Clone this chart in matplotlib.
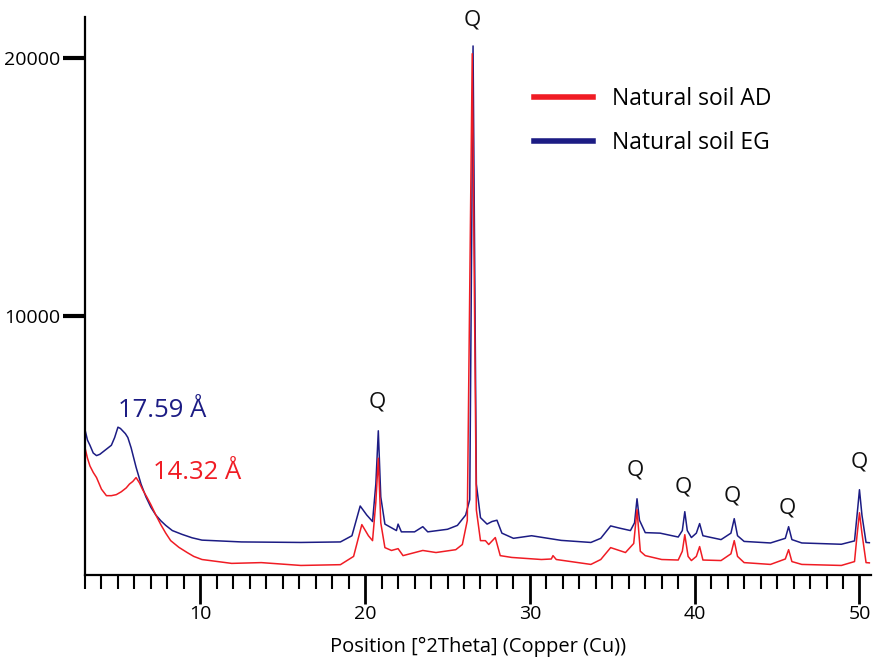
import matplotlib
matplotlib.use("Agg")
import matplotlib.pyplot as plt
from matplotlib.ticker import MultipleLocator

plt.rcParams["font.family"] = ["Open Sans", "DejaVu Sans"]

# 2theta positions and counts
eg_theta = [3.0, 3.15, 3.3, 3.5, 3.7, 3.9, 4.2, 4.4, 4.6, 4.8, 5.0, 5.15, 5.3, 5.45,
            5.6, 5.8, 6.1, 6.4, 6.7, 7.0, 7.3, 7.6, 7.9, 8.3, 8.9, 9.5, 10.1,
            12.5, 16.1, 18.5, 19.2, 19.7, 20.1, 20.45, 20.65, 20.8, 20.95, 21.2,
            21.9, 22.0, 22.2, 23.0, 23.5, 23.8, 25.0, 25.6, 26.1, 26.35, 26.55,
            26.75, 27.0, 27.4, 27.7, 28.0, 28.3, 29.0, 30.1, 31.9, 33.7, 34.3,
            34.9, 35.4, 36.1, 36.35, 36.5, 36.65, 37.0, 37.9, 39.0, 39.25, 39.4,
            39.55, 39.8, 40.1, 40.3, 40.5, 41.6, 42.2, 42.4, 42.6, 43.0, 44.6,
            45.5, 45.7, 45.9, 46.5, 48.9, 49.7, 49.9, 50.0, 50.15, 50.4, 50.6]
eg_counts = [5600, 5200, 5000, 4700, 4600, 4650, 4800, 4900, 5000, 5300, 5700, 5650,
             5550, 5450, 5300, 4900, 4150, 3500, 3000, 2600, 2300, 2080, 1900, 1700,
             1550, 1420, 1330, 1260, 1240, 1260, 1500, 2650, 2300, 2050, 3500, 5560,
             3000, 1950, 1700, 1950, 1650, 1650, 1850, 1650, 1750, 1900, 2300, 2900,
             20450, 3500, 2200, 1950, 2050, 2100, 1600, 1400, 1500, 1320, 1240, 1400,
             1880, 1800, 1700, 2000, 2930, 2100, 1620, 1600, 1450, 1700, 2430, 1700,
             1430, 1600, 1970, 1500, 1350, 1600, 2160, 1500, 1280, 1220, 1400, 1850,
             1350, 1220, 1170, 1300, 2600, 3280, 2300, 1240, 1230]

ad_theta = [3.0, 3.15, 3.3, 3.5, 3.7, 4.0, 4.3, 4.6, 4.9, 5.2, 5.5, 5.7, 5.9, 6.1,
            6.3, 6.5, 6.75, 7.0, 7.3, 7.6, 7.9, 8.2, 8.7, 9.2, 9.6, 10.1,
            11.9, 13.7, 16.1, 18.5, 19.3, 19.8, 20.2, 20.45, 20.65, 20.8, 20.95,
            21.2, 21.6, 22.0, 22.3, 23.5, 24.3, 25.5, 25.9, 26.2, 26.5, 26.75, 27.0,
            27.3, 27.5, 27.9, 28.2, 28.9, 30.7, 31.3, 31.4, 31.6, 33.7, 34.3, 34.9,
            35.8, 36.3, 36.5, 36.7, 37.0, 38.0, 39.0, 39.25, 39.4, 39.6, 39.8, 40.1,
            40.3, 40.5, 41.6, 42.2, 42.4, 42.6, 43.0, 44.6, 45.5, 45.7, 45.9, 46.5,
            48.9, 49.7, 49.85, 50.0, 50.15, 50.4, 50.6]
ad_counts = [4900, 4500, 4200, 3950, 3750, 3300, 3050, 3050, 3090, 3200, 3350, 3500,
             3600, 3750, 3550, 3280, 3000, 2700, 2300, 1930, 1600, 1310, 1050, 850,
             700, 580, 430, 460, 350, 380, 700, 1930, 1500, 1310, 2800, 4500, 2000,
             1040, 930, 1000, 730, 930, 850, 960, 1160, 2090, 20150, 2500, 1310, 1310,
             1160, 1430, 730, 660, 580, 600, 730, 580, 390, 580, 1040, 850, 1200,
             2510, 900, 730, 580, 560, 900, 1540, 700, 540, 700, 1080, 560, 540, 800,
             1310, 700, 460, 390, 600, 960, 500, 390, 350, 500, 1500, 2390, 1600,
             460, 450]

# quartz reflections (label position)
q_theta = [20.73, 26.5, 36.4, 39.3, 42.3, 45.6, 50.0]
q_label_y = [6670, 21450, 4040, 3380, 3040, 2570, 4350]

RED = "#f01c24"
NAVY = "#1c1c84"

fig = plt.figure(figsize=(8.73, 6.61), dpi=100)
ax = fig.add_axes([85 / 873, 86.5 / 661, 786 / 873, 557.5 / 661])

ax.plot(eg_theta, eg_counts, color=NAVY, linewidth=1.1, label="Natural soil EG")
ax.plot(ad_theta, ad_counts, color=RED, linewidth=1.1, label="Natural soil AD")

for qx, qy in zip(q_theta, q_label_y):
    ax.text(qx, qy, "Q", fontsize=16, ha="center", va="center", color="#111111")

ax.text(5.0, 6360, "17.59 Å", fontsize=18.5, color=NAVY, ha="left", va="center")
ax.text(7.1, 3960, "14.32 Å", fontsize=18.5, color=RED, ha="left", va="center")

ax.set_xlim(3.0, 50.7)
ax.set_ylim(0, 21570)
ax.set_yticks([10000, 20000])
ax.xaxis.set_major_locator(MultipleLocator(10))
ax.xaxis.set_minor_locator(MultipleLocator(1))

for side in ("top", "right"):
    ax.spines[side].set_visible(False)
for side in ("left", "bottom"):
    ax.spines[side].set_linewidth(1.6)

ax.tick_params(axis="x", which="major", length=21, width=2, labelsize=14, pad=1)
ax.tick_params(axis="x", which="minor", length=10, width=1.5)
ax.tick_params(axis="y", which="major", length=16, width=3, labelsize=14, pad=2)

ax.set_xlabel("Position [°2Theta] (Copper (Cu))", fontsize=14.5, labelpad=10)

handles, labels = ax.get_legend_handles_labels()
leg = ax.legend(handles[::-1], labels[::-1], loc="upper left",
                bbox_to_anchor=(0.571, 0.875), frameon=False, fontsize=16.5,
                handlelength=2.6, handletextpad=0.8, labelspacing=0.9,
                borderpad=0, borderaxespad=0)
for line in leg.get_lines():
    line.set_linewidth(4)

fig.savefig("out.png", dpi=100)
